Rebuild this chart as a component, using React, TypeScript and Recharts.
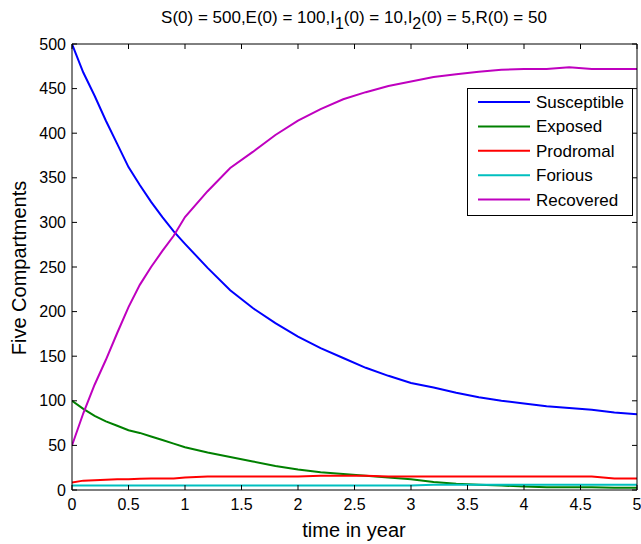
import { LineChart, Line, XAxis, YAxis } from 'recharts';

const times = [0, 0.1, 0.2, 0.3, 0.4, 0.5, 0.6, 0.7, 0.8, 0.9, 1.0, 1.2, 1.4, 1.6, 1.8, 2.0, 2.2, 2.4, 2.6, 2.8, 3.0, 3.2, 3.4, 3.6, 3.8, 4.0, 4.2, 4.4, 4.6, 4.8, 5.0];
const susceptible = [500, 468, 442, 414, 388, 362, 342, 323, 306, 290, 276, 249, 224, 204, 187, 172, 159, 148, 137, 128, 120, 115, 109, 104, 100, 97, 94, 92, 90, 87, 85];
const exposed = [100, 91, 83, 77, 72, 67, 64, 60, 56, 52, 48, 42, 37, 32, 27, 23, 20, 18, 16, 14, 12, 9, 7, 6, 5, 4, 3, 3, 3, 2.5, 2.5];
const prodromal = [8.5, 10.5, 11, 11.5, 12, 12, 12.5, 13, 13, 13, 14, 15, 15, 15, 15, 15, 16, 16, 16, 15, 15, 15, 15, 15, 15, 15, 15, 15, 15, 13, 13];
const forious = [5, 5, 5, 5, 5, 5, 5, 5, 5, 5, 5, 5, 5, 5, 5, 5, 5, 5, 5, 5, 5, 6, 6, 6, 6, 6, 6, 6, 6, 6, 6];
const recovered = [50, 86, 118, 146, 176, 205, 230, 250, 268, 285, 306, 335, 361, 379, 398, 414, 427, 438, 446, 453, 458, 463, 466, 469, 471, 472, 472, 474, 472, 472, 472];

const xTicks = [0, 0.5, 1, 1.5, 2, 2.5, 3, 3.5, 4, 4.5, 5];
const yTicks = [0, 50, 100, 150, 200, 250, 300, 350, 400, 450, 500];

// the last series rides on the mirrored top/right axes so they get drawn (same domains)
const series = [
  { key: 'S', name: 'Susceptible', color: '#0000ff', mirror: false },
  { key: 'E', name: 'Exposed', color: '#008000', mirror: false },
  { key: 'P', name: 'Prodromal', color: '#ff0000', mirror: false },
  { key: 'F', name: 'Forious', color: '#00bfbf', mirror: false },
  { key: 'R', name: 'Recovered', color: '#bf00bf', mirror: true },
];

const data = times.map((t, i) => ({
  t,
  S: susceptible[i],
  E: exposed[i],
  P: prodromal[i],
  F: forious[i],
  R: recovered[i],
}));

const font = '"Liberation Sans", Arial, sans-serif';
const tickStyle = { fontFamily: font, fontSize: 16, fill: '#000' };
const blank = () => '';

export default function App() {
  return (
    <div style={{ position: 'absolute', left: 0, top: 0, width: 641, height: 544, background: '#fff' }}>
      <LineChart width={641} height={544} data={data} margin={{ top: 43, right: 3, bottom: 24, left: 32 }}>
        <XAxis
          dataKey="t"
          type="number"
          domain={[0, 5]}
          ticks={xTicks}
          allowDataOverflow
          height={30}
          tickSize={-5}
          tickMargin={14}
          stroke="#000"
          tick={tickStyle}
        />
        <XAxis
          xAxisId="top"
          dataKey="t"
          orientation="top"
          type="number"
          domain={[0, 5]}
          ticks={xTicks}
          allowDataOverflow
          height={1}
          tickSize={-5}
          stroke="#000"
          tickFormatter={blank}
        />
        <YAxis
          type="number"
          domain={[0, 500]}
          ticks={yTicks}
          allowDataOverflow
          width={40}
          tickSize={-5}
          tickMargin={11}
          stroke="#000"
          tick={tickStyle}
        />
        <YAxis
          yAxisId="right"
          orientation="right"
          type="number"
          domain={[0, 500]}
          ticks={yTicks}
          allowDataOverflow
          width={1}
          tickSize={-5}
          stroke="#000"
          tickFormatter={blank}
        />
        {series.map(s => (
          <Line
            key={s.key}
            xAxisId={s.mirror ? 'top' : 0}
            yAxisId={s.mirror ? 'right' : 0}
            type="linear"
            dataKey={s.key}
            name={s.name}
            stroke={s.color}
            strokeWidth={2}
            dot={false}
            isAnimationActive={false}
          />
        ))}
      </LineChart>
      <svg width={641} height={544} style={{ position: 'absolute', left: 0, top: 0, pointerEvents: 'none' }}>
        <text x={354} y={23} textAnchor="middle" fontFamily={font} fontSize={17} fill="#000">
          <tspan>S(0) = 500,E(0) = 100,I</tspan>
          <tspan dy={6} fontSize={16}>1</tspan>
          <tspan dy={-6}>(0) = 10,I</tspan>
          <tspan dy={6} fontSize={16}>2</tspan>
          <tspan dy={-6}>(0) = 5,R(0) = 50</tspan>
        </text>
        <text x={354} y={537} textAnchor="middle" fontFamily={font} fontSize={20} fill="#000">
          time in year
        </text>
        <text x={26} y={268} textAnchor="middle" fontFamily={font} fontSize={20} fill="#000" transform="rotate(-90 26 268)">
          Five Compartments
        </text>
        <rect x={467.5} y={88.5} width={165} height={127} fill="#fff" stroke="#000" strokeWidth={1} />
        {series.map((s, i) => (
          <g key={s.key}>
            <line x1={478} x2={530} y1={102 + i * 24.4} y2={102 + i * 24.4} stroke={s.color} strokeWidth={2} />
            <text x={536} y={102 + i * 24.4} dy="0.35em" fontFamily={font} fontSize={17} fill="#000">
              {s.name}
            </text>
          </g>
        ))}
      </svg>
    </div>
  );
}
